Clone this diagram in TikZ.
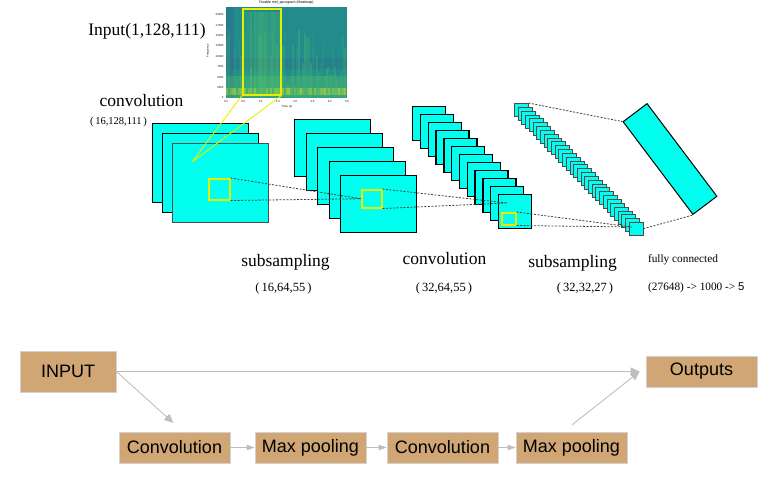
\documentclass[tikz,border=0pt]{standalone}
\usepackage{fontspec}
\setmainfont{Liberation Serif}
\setsansfont{Liberation Sans}
\usepackage{tikz}
\usetikzlibrary{arrows.meta}
\definecolor{cyanfm}{RGB}{0,255,238}
\definecolor{boxtan}{RGB}{208,166,117}
\definecolor{kyellow}{RGB}{232,238,0}
\definecolor{arrowgray}{RGB}{190,190,190}
\definecolor{spteal}{RGB}{33,140,139}
\definecolor{spblue}{RGB}{42,118,142}
\definecolor{spgreen}{RGB}{90,200,100}
\definecolor{splime}{RGB}{196,228,40}

\begin{document}
\begin{tikzpicture}[x=1pt,y=-1pt,
  fmapbox/.style={draw=black, line width=1.4pt, fill=cyanfm, inner sep=0pt, anchor=north west},
  kernel/.style={draw=kyellow, line width=1.5pt, inner sep=0pt, anchor=north west},
  link/.style={draw=black!75, line width=0.8pt, dash pattern=on 2pt off 1.5pt},
  yline/.style={draw=kyellow, line width=0.9pt},
  lbl/.style={font=\fontsize{17.5}{20}\selectfont, inner sep=0pt, anchor=base},
  dims/.style={font=\fontsize{12.5}{14}\selectfont, inner sep=0pt, anchor=base},
  tick/.style={font=\sffamily\fontsize{2.8}{3}\selectfont, inner sep=0.3pt},
  block/.style={fill=boxtan, draw=gray!35, line width=0.8pt, minimum width=111pt, minimum height=31pt,
    inner sep=0pt, font=\sffamily\fontsize{18}{20}\selectfont},
  flow/.style={color=arrowgray, line width=0.9pt, -{Triangle[length=8pt,width=5.5pt]}},
  bigflow/.style={color=arrowgray, line width=0.9pt, -{Triangle[length=9pt,width=8pt]}}]
\useasboundingbox (0,0) rectangle (778,477);

% spectrogram
\fill[spteal] (226,7) rectangle (347,98);
\fill[spblue, opacity=0.6] (226,7) rectangle (234,98);
\fill[spblue, opacity=0.5] (226,58) rectangle (347,69);
\fill[spgreen, opacity=0.3] (226,76) rectangle (347,98);
\pgfmathsetseed{17}
\foreach \i in {0,...,59}{
  \pgfmathsetmacro\xx{226+2*\i}
  \pgfmathsetmacro\hh{10+60*rnd}
  \pgfmathsetmacro\op{0.05+0.25*rnd}
  \fill[spgreen, opacity=\op] (\xx,97) rectangle (\xx+2,97-\hh);
  \pgfmathsetmacro\op{0.1+0.5*rnd}
  \fill[splime, opacity=\op] (\xx,95) rectangle (\xx+2,88);
}
\foreach \i in {0,...,18}{
  \pgfmathsetmacro\xx{242+2*\i}
  \pgfmathsetmacro\op{0.1+0.3*rnd}
  \fill[spgreen, opacity=\op] (\xx,12) rectangle (\xx+1.5,96);
}
\node[tick, font=\sffamily\fontsize{3.6}{4}\selectfont] (sptitle) at (286.5,3) {Double mel\_spcogram (Heatmap)};
\foreach \v [count=\k from 0] in {0,2500,5000,7500,10000,12500,15000,17500,20000}
  \node[tick, anchor=east] (yt\k) at (224,98-10.4*\k) {\v};
\foreach \v [count=\k from 0] in {0.0,0.5,1.0,1.5,2.0,2.5,3.0,3.5}
  \node[tick] (xt\k) at (226+17.3*\k,101.5) {\v};
\node[tick, rotate=90] (spy) at (208,51) {Frequency};
\node[tick] (spx) at (287,107) {Time (s)};
\node[kernel, minimum width=38pt, minimum height=86pt] (win) at (242,8) {};

% feature maps
\foreach \i in {0,1}
  \node[fmapbox, minimum width=96pt, minimum height=79pt] (a\i) at (152+10*\i,123+10*\i) {};
\node[fmapbox, draw=black!70, line width=0.8pt, minimum width=96pt, minimum height=79pt] (a2) at (172,143) {};
\foreach \i in {0,...,4}
  \node[fmapbox, minimum width=76pt, minimum height=57pt] (b\i) at (294+11.5*\i,119+14*\i) {};
\foreach \i in {0,...,11}
  \node[fmapbox, minimum width=33pt, minimum height=34pt] (c\i) at (412+7.8*\i,106+8*\i) {};
\foreach \i in {0,...,31}
  \node[fmapbox, draw=black!70, line width=0.5pt, minimum width=14pt, minimum height=13pt] (d\i) at (514+3.7*\i,103+3.84*\i) {};
\node[draw=black, line width=1pt, fill=cyanfm, rotate=-53, minimum width=116pt, minimum height=30pt, inner sep=0pt] (fc) at (670,159) {};

\coordinate (p1) at (192,162);
\coordinate (p3) at (507,203);
\coordinate (p4) at (632,227);
\draw[yline] (win.south west) -- (p1) (win.south east) -- (p1);
\node[kernel, minimum width=21pt, minimum height=21pt] (k1) at (208,178) {};
\node[kernel, minimum width=20pt, minimum height=18pt] (k2) at (361,189) {};
\node[kernel, minimum width=14pt, minimum height=12pt] (k3) at (501,212) {};
\draw[link] (k1.north east) -- (k2.west) (k1.south east) -- (k2.west);
\draw[link] (k2.north east) -- (p3) (k2.south east) -- (p3);
\draw[link] (k3.north east) -- (p4) (k3.south east) -- (p4);
\draw[link] (d0.north east) -- (fc.south west) (d31.east) -- (fc.south east);

% labels
\node[lbl] (tin) at (147,35) {Input(1,128,111)};
\node[lbl] (tconv1) at (141.5,106) {convolution};
\node[dims, font=\fontsize{10.5}{12}\selectfont] (dconv1) at (118.5,124) {(\,16,128,111\,)};
\node[lbl] (tsub1) at (285.5,266) {subsampling};
\node[dims] (dsub1) at (283.5,291) {(\,16,64,55\,)};
\node[lbl] (tconv2) at (444.5,264) {convolution};
\node[dims] (dconv2) at (444,291) {(\,32,64,55\,)};
\node[lbl] (tsub2) at (572.5,267) {subsampling};
\node[dims] (dsub2) at (585,291) {(\,32,32,27\,)};
\node[dims, font=\fontsize{11.3}{13}\selectfont] (tfc) at (683,262) {fully connected};
\node[dims, font=\fontsize{11.3}{13}\selectfont, anchor=base west] (dfc) at (648,290) {(27648) -> 1000 -> {\sffamily 5}};

% flow chart
\node[block, minimum width=96pt, minimum height=41pt] (input) at (68,371.5) {INPUT};
\node[block] (conv1) at (174.5,447.5) {Convolution};
\node[block] (pool1) at (310.5,447.5) {Max pooling};
\node[block] (conv2) at (442.5,447.5) {Convolution};
\node[block] (pool2) at (571.5,447.5) {Max pooling};
\node[block] (outputs) at (701.5,371.5) {Outputs};
\coordinate (oin) at ([xshift=-6pt]outputs.west);
\path[bigflow]
  (input.east) edge (oin)
  (input.east) edge[shorten >=13pt] ([xshift=8.5pt]conv1.north)
  ([xshift=-8pt]pool2.north) edge[shorten <=11pt] (oin);
\path[flow]
  (conv1) edge (pool1)
  (pool1) edge (conv2)
  (conv2) edge (pool2);
\end{tikzpicture}
\end{document}
